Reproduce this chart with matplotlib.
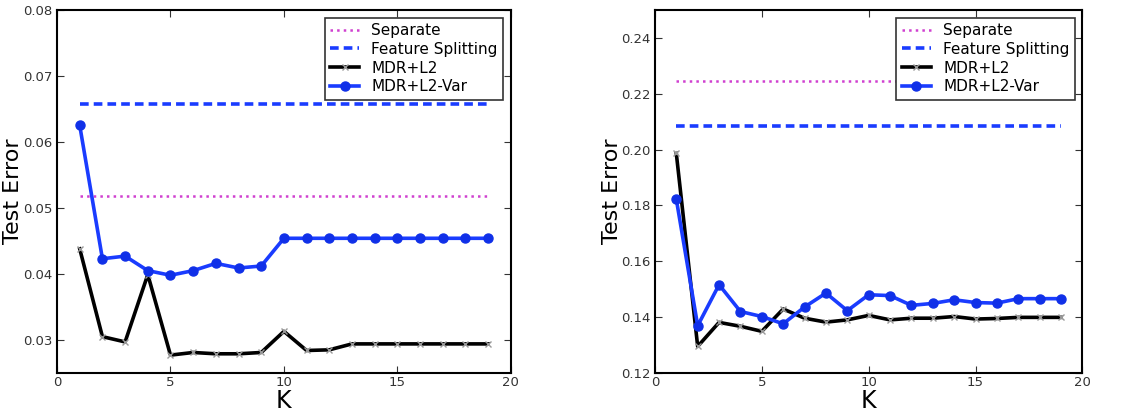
import matplotlib
matplotlib.use('Agg')
import matplotlib.pyplot as plt

K = list(range(1, 20))

# left panel
sep_left = 0.0518
fs_left = 0.0658
mdr_left = [0.0438, 0.0305, 0.0297, 0.0399, 0.0277, 0.0281, 0.0279, 0.0279, 0.0281, 0.0313,
            0.0284, 0.0285, 0.0294, 0.0294, 0.0294, 0.0294, 0.0294, 0.0294, 0.0294]
var_left = [0.0625, 0.0423, 0.0427, 0.0405, 0.0398, 0.0405, 0.0416, 0.0409, 0.0412, 0.0454,
            0.0454, 0.0454, 0.0454, 0.0454, 0.0454, 0.0454, 0.0454, 0.0454, 0.0454]

# right panel
sep_right = 0.2246
fs_right = 0.2084
mdr_right = [0.1986, 0.1295, 0.1381, 0.1367, 0.1349, 0.1429, 0.1396, 0.1382, 0.1390, 0.1406,
             0.1390, 0.1396, 0.1396, 0.1402, 0.1393, 0.1395, 0.1399, 0.1399, 0.1399]
var_right = [0.1822, 0.1369, 0.1516, 0.1420, 0.1402, 0.1376, 0.1436, 0.1486, 0.1423, 0.1480,
             0.1477, 0.1442, 0.1449, 0.1462, 0.1452, 0.1450, 0.1466, 0.1466, 0.1466]

blue = '#1a3cff'
magenta = '#d040d0'

fig = plt.figure(figsize=(11.43, 4.13), dpi=100)
ax1 = fig.add_axes([0.0499, 0.097, 0.397, 0.879])
ax2 = fig.add_axes([0.573, 0.097, 0.374, 0.879])


def panel(ax, sep, fs, mdr, var, ylim, yticks, ylab_x):
    ax.plot(K, [sep] * len(K), ':', color=magenta, lw=1.8, label='Separate')
    ax.plot(K, [fs] * len(K), '--', color=blue, lw=2.6, dashes=(2.4, 1.4),
            label='Feature Splitting')
    ax.plot(K, mdr, '-', color='black', lw=2.6, marker='x', ms=5, mec='#999999', mew=1,
            label='MDR+L2')
    ax.plot(K, var, '-', color=blue, lw=2.6, marker='o', ms=6.5, mfc='#1030e8', mec='#1030e8',
            label='MDR+L2-Var')
    ax.set_xlim(0, 20)
    ax.set_ylim(*ylim)
    ax.set_xticks([0, 5, 10, 15, 20])
    ax.set_yticks(yticks)
    ax.tick_params(direction='in', top=True, right=True, length=5, labelsize=9.5,
                   colors='#333333', pad=3)
    ax.tick_params(axis='x', pad=2)
    for s in ax.spines.values():
        s.set_linewidth(1.5)
    ax.set_xlabel('K', fontsize=17)
    ax.set_ylabel('Test Error', fontsize=16)
    ax.xaxis.set_label_coords(0.5, -0.043)
    ax.yaxis.set_label_coords(ylab_x, 0.5)
    leg = ax.legend(loc='upper right', fontsize=11, fancybox=False, framealpha=1,
                    edgecolor='#333333', handlelength=1.9, handletextpad=0.8,
                    borderaxespad=0.5, borderpad=0.35, labelspacing=0.25)
    leg.get_frame().set_linewidth(1.2)


panel(ax1, sep_left, fs_left, mdr_left, var_left, (0.025, 0.08),
      [0.03, 0.04, 0.05, 0.06, 0.07, 0.08], -0.074)
panel(ax2, sep_right, fs_right, mdr_right, var_right, (0.12, 0.25),
      [0.12, 0.14, 0.16, 0.18, 0.20, 0.22, 0.24], -0.077)

fig.savefig('out.png', dpi=100)
